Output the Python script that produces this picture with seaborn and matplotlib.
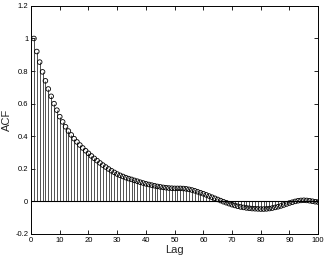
import numpy as np
import matplotlib
matplotlib.use("Agg")
import matplotlib.pyplot as plt
import seaborn as sns

lags = list(range(1, 101))
acf = [
    1.000, 0.920, 0.855, 0.795, 0.740, 0.690, 0.645, 0.600, 0.560, 0.520,
    0.488, 0.458, 0.432, 0.408, 0.385, 0.365, 0.346, 0.328, 0.311, 0.295,
    0.279, 0.264, 0.250, 0.236, 0.223, 0.211, 0.199, 0.188, 0.178, 0.168,
    0.160, 0.153, 0.146, 0.140, 0.135, 0.129, 0.124, 0.118, 0.113, 0.108,
    0.104, 0.100, 0.096, 0.092, 0.089, 0.086, 0.084, 0.082, 0.081, 0.080,
    0.080, 0.080, 0.079, 0.077, 0.074, 0.070, 0.065, 0.059, 0.053, 0.047,
    0.040, 0.033, 0.026, 0.019, 0.012, 0.005, -0.002, -0.008, -0.014, -0.020,
    -0.025, -0.030, -0.034, -0.037, -0.040, -0.042, -0.044, -0.045, -0.046, -0.047,
    -0.047, -0.046, -0.044, -0.041, -0.037, -0.033, -0.028, -0.022, -0.016, -0.010,
    -0.005, 0.000, 0.004, 0.006, 0.007, 0.006, 0.004, 0.001, -0.002, -0.004,
]
xticks = list(range(0, 101, 10))
yticks = [-0.2, 0, 0.2, 0.4, 0.6, 0.8, 1.0, 1.2]
ytick_labels = ['-0.2', '0', '0.2', '0.4', '0.6', '0.8', '1', '1.2']

sns.set_style("ticks")
plt.rcParams['font.family'] = ['Liberation Sans', 'DejaVu Sans']

fig = plt.figure(figsize=(3.27, 2.56), dpi=100)
ax = fig.add_axes([0.095, 0.086, 0.878, 0.891])

# stems + baseline
ax.vlines(lags, 0, acf, color='#222222', linewidth=0.55)
ax.axhline(0, color='black', linewidth=0.8)
sns.scatterplot(x=lags, y=acf, ax=ax, marker='o', s=11,
                facecolor='none', edgecolor='black', linewidth=0.6, zorder=3)

ax.set_xlim(0, 100)
ax.set_ylim(-0.2, 1.2)
ax.set_xticks(xticks)
ax.set_xticklabels([str(t) for t in xticks])
ax.set_yticks(yticks)
ax.set_yticklabels(ytick_labels)
ax.tick_params(direction='in', length=3, width=0.6, labelsize=5.5,
               top=True, right=True, pad=2, colors='black')
for sp in ax.spines.values():
    sp.set_visible(True)
    sp.set_linewidth(0.7)
    sp.set_color('black')

ax.set_xlabel('Lag', fontsize=8, labelpad=1)
ax.set_ylabel('ACF', fontsize=8)
ax.yaxis.set_label_coords(-0.065, 0.5)

fig.savefig('out.png', dpi=100)
plt.close(fig)
